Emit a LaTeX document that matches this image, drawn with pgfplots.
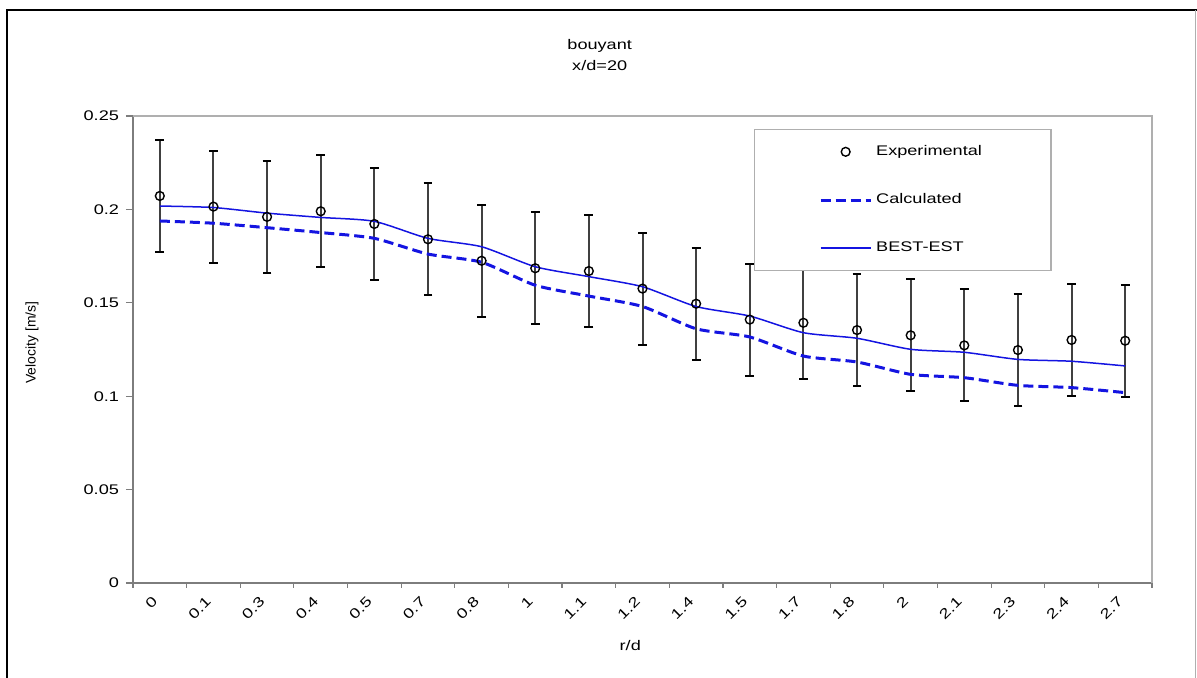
\documentclass[border=0pt]{standalone}
\usepackage{fontspec}
\setmainfont{Liberation Sans}[FakeStretch=1.3]
\newfontfamily\plainfont{Liberation Sans}
\usepackage{pgfplots}
\usepackage{pgfplotstable}
\pgfplotsset{compat=1.18}

\definecolor{lineblue}{RGB}{20,20,225}
\definecolor{axisgray}{RGB}{125,125,125}
\definecolor{framegray}{RGB}{175,175,175}

% radial velocity profile at x/d = 20 (index = category position)
\pgfplotstableread{
i   exp     err   calc    best
0   0.2072  0.03  0.1938  0.2018
1   0.2015  0.03  0.1926  0.2010
2   0.1960  0.03  0.1902  0.1980
3   0.1990  0.03  0.1876  0.1957
4   0.1922  0.03  0.1845  0.1936
5   0.1840  0.03  0.1761  0.1845
6   0.1725  0.03  0.1717  0.1800
7   0.1685  0.03  0.1594  0.1693
8   0.1670  0.03  0.1536  0.1640
9   0.1576  0.03  0.1480  0.1586
10  0.1495  0.03  0.1361  0.1480
11  0.1410  0.03  0.1317  0.1429
12  0.1393  0.03  0.1215  0.1340
13  0.1354  0.03  0.1183  0.1310
14  0.1326  0.03  0.1117  0.1251
15  0.1272  0.03  0.1099  0.1235
16  0.1247  0.03  0.1058  0.1197
17  0.1301  0.03  0.1046  0.1187
18  0.1297  0.03  0.1019  0.1162
}\velocity

\begin{document}
\begin{tikzpicture}[font=\fontsize{7}{8.4}\selectfont]
\useasboundingbox (0bp,0bp) rectangle (598.5bp,339bp);
% page frame
\draw[line width=1.1bp] (3.5bp,0bp) -- (3.5bp,334bp) -- (598.5bp,334bp);
\draw[framegray, line width=0.6bp] (597.6bp,0bp) -- (597.6bp,334bp);

\begin{axis}[
  at={(66.5bp,47.5bp)}, anchor=south west,
  scale only axis, width=509.5bp, height=233.5bp,
  xmin=-0.5, xmax=18.5, ymin=0, ymax=0.25,
  axis x line*=bottom, axis y line*=left,
  axis line style={axisgray, line width=0.6bp},
  tick align=outside,
  major tick length=3.5bp, minor tick length=2.5bp,
  tick style={axisgray, line width=0.6bp},
  xtick={0,...,18},
  xticklabels={0,0.1,0.3,0.4,0.5,0.7,0.8,1,1.1,1.2,1.4,1.5,1.7,1.8,2,2.1,2.3,2.4,2.7},
  major x tick style={draw=none},
  minor xtick={-0.5,0.5,...,18.5},
  xticklabel style={rotate=45, anchor=east},
  xticklabel shift=2bp,
  ytick={0,0.05,0.1,0.15,0.2,0.25},
  yticklabels={0,0.05,0.1,0.15,0.2,0.25},
  title={bouyant\\x/d=20},
  title style={align=center, font=\fontsize{7}{10.5}\selectfont,
    at={(axis description cs:0.458,1.104)}, anchor=center},
  xlabel={r/d},
  xlabel style={at={(axis description cs:0.488,-0.1328)}, anchor=center},
  ylabel={Velocity [m/s]},
  ylabel style={font=\plainfont\fontsize{7}{8.4}\selectfont,
    at={(axis description cs:-0.0991,0.515)}, anchor=center, rotate=0},
  legend image code/.code={\draw[mark repeat=2,mark phase=2,#1]
    plot coordinates {(0bp,0bp) (12.5bp,0bp) (25bp,0bp)};},
  legend cell align=left,
  legend style={at={(0.609,0.972)}, anchor=north west,
    draw=framegray, line width=0.6bp, fill=white,
    inner xsep=32.5bp, inner ysep=5.8bp, row sep=13.6bp},
  after end axis/.code={
    \draw[framegray, line width=0.6bp]
      (rel axis cs:0,1) -- (rel axis cs:1,1) -- (rel axis cs:1,0);
  },
]
\addplot[only marks, mark=o, mark size=2.2bp, black, mark options={line width=0.7bp},
  error bars/.cd, y dir=both, y explicit,
  error bar style={black!75, line width=1bp},
  error mark options={rotate=90, mark size=2.2bp, line width=1bp, black}]
  table[x=i, y=exp, y error=err] {\velocity};
\addlegendentry{Experimental}
\addplot[lineblue, line width=1.5bp, dash pattern=on 5bp off 2.5bp, smooth, tension=0.4]
  table[x=i, y=calc] {\velocity};
\addlegendentry{Calculated}
\addplot[lineblue, line width=0.75bp, smooth, tension=0.4]
  table[x=i, y=best] {\velocity};
\addlegendentry{BEST-EST}
\end{axis}
\end{tikzpicture}
\end{document}
